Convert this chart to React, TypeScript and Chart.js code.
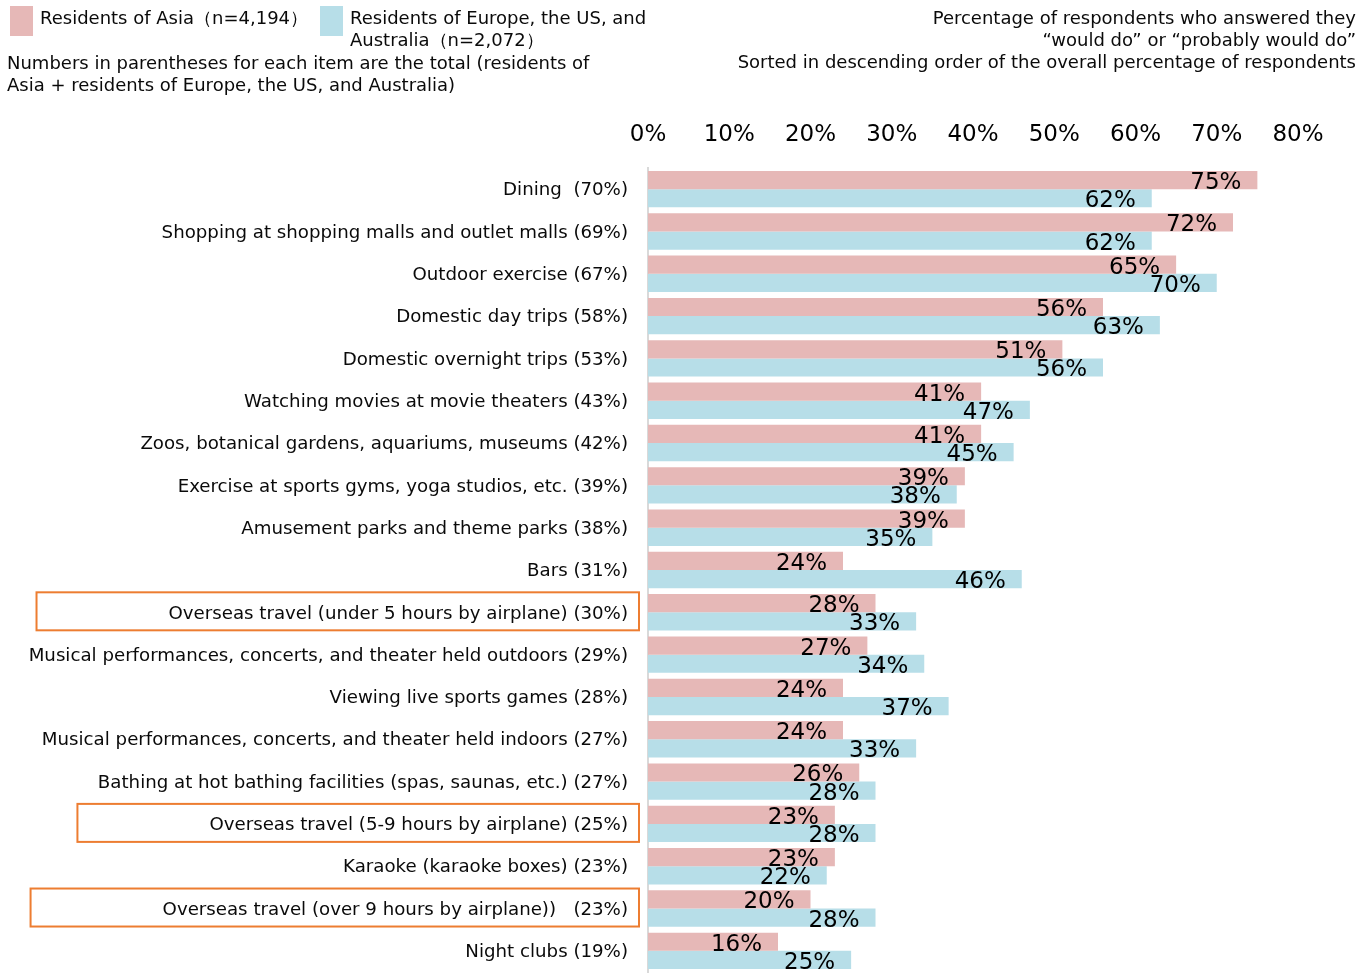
import React, { useEffect, useRef } from "react";
import { Chart, registerables } from "chart.js";

Chart.register(...registerables);

const categories: string[] = [
  "Dining  (70%)",
  "Shopping at shopping malls and outlet malls (69%)",
  "Outdoor exercise (67%)",
  "Domestic day trips (58%)",
  "Domestic overnight trips (53%)",
  "Watching movies at movie theaters (43%)",
  "Zoos, botanical gardens, aquariums, museums (42%)",
  "Exercise at sports gyms, yoga studios, etc. (39%)",
  "Amusement parks and theme parks (38%)",
  "Bars (31%)",
  "Overseas travel (under 5 hours by airplane) (30%)",
  "Musical performances, concerts, and theater held outdoors (29%)",
  "Viewing live sports games (28%)",
  "Musical performances, concerts, and theater held indoors (27%)",
  "Bathing at hot bathing facilities (spas, saunas, etc.) (27%)",
  "Overseas travel (5-9 hours by airplane) (25%)",
  "Karaoke (karaoke boxes) (23%)",
  "Overseas travel (over 9 hours by airplane))\u00a0\u00a0 (23%)",
  "Night clubs (19%)",
];

const asiaValues: number[] = [75, 72, 65, 56, 51, 41, 41, 39, 39, 24, 28, 27, 24, 24, 26, 23, 23, 20, 16];
const westValues: number[] = [62, 62, 70, 63, 56, 47, 45, 38, 35, 46, 33, 34, 37, 33, 28, 28, 22, 28, 25];

const highlighted: number[] = [10, 15, 17];

const asiaLabel = "Residents of Asia（n=4,194）";
const westLabelLines = ["Residents of Europe, the US, and", "Australia（n=2,072）"];
const noteLines = [
  "Numbers in parentheses for each item are the total (residents of",
  "Asia + residents of Europe, the US, and Australia)",
];
const rightLines = [
  "Percentage of respondents who answered they",
  "\u201cwould do\u201d or \u201cprobably would do\u201d",
  "Sorted in descending order of the overall percentage of respondents",
];

const PINK = "#E6B8B7";
const BLUE = "#B7DEE8";
const FONT = "'DejaVu Sans', Verdana, sans-serif";
const LABEL_SIZE = 18.2;

const valueLabelPlugin = {
  id: "valueLabels",
  afterDatasetsDraw(chart: any) {
    const ctx = chart.ctx;
    ctx.save();
    ctx.font = `23px ${FONT}`;
    ctx.fillStyle = "#000";
    ctx.textAlign = "right";
    ctx.textBaseline = "middle";
    chart.data.datasets.forEach((ds: any, i: number) => {
      const meta = chart.getDatasetMeta(i);
      meta.data.forEach((bar: any, j: number) => {
        ctx.fillText(`${ds.data[j]}%`, bar.x - 16, bar.y + 3);
      });
    });
    ctx.restore();
  },
};

const boxPlugin = {
  id: "highlightBoxes",
  afterDraw(chart: any) {
    const ctx = chart.ctx;
    const y = chart.scales.y;
    ctx.save();
    ctx.font = `${LABEL_SIZE}px ${FONT}`;
    ctx.strokeStyle = "#ED7D31";
    ctx.lineWidth = 2;
    highlighted.forEach((idx) => {
      const cy = y.getPixelForValue(idx);
      const w = ctx.measureText(categories[idx]).width;
      const right = chart.chartArea.left - 9;
      const left = chart.chartArea.left - 20 - w - 132;
      ctx.strokeRect(left, cy - 20, right - left, 38);
    });
    ctx.restore();
  },
};

export default function App() {
  const ref = useRef<HTMLCanvasElement>(null);

  useEffect(() => {
    if (!ref.current) return;
    Chart.defaults.font.family = FONT;
    const chart = new Chart(ref.current, {
      type: "bar",
      data: {
        labels: categories,
        datasets: [
          { label: asiaLabel, data: asiaValues, backgroundColor: PINK, borderWidth: 0 },
          { label: westLabelLines.join(" "), data: westValues, backgroundColor: BLUE, borderWidth: 0 },
        ],
      },
      options: {
        indexAxis: "y",
        responsive: false,
        animation: false,
        layout: { padding: { top: 108, right: 72, bottom: 1, left: 0 } },
        datasets: { bar: { categoryPercentage: 0.86, barPercentage: 1 } },
        plugins: { legend: { display: false }, tooltip: { enabled: false } },
        scales: {
          x: {
            position: "top",
            min: 0,
            max: 80,
            grid: { display: false, drawTicks: false },
            border: { display: false },
            ticks: {
              stepSize: 10,
              padding: 19,
              color: "#000",
              font: { size: 23, family: FONT },
              callback: (v: any) => `${v}%`,
            },
            afterFit: (s: any) => {
              s.height = 60;
            },
          },
          y: {
            grid: { display: false, drawTicks: false },
            border: { display: true, color: "#D9D9D9", width: 2 },
            ticks: {
              padding: 20,
              labelOffset: 1.5,
              color: "#0a0a0a",
              font: { size: LABEL_SIZE, family: FONT },
              autoSkip: false,
            },
            afterFit: (s: any) => {
              s.width = 648;
              s.paddingTop = 0;
              s.paddingBottom = 0;
            },
          },
        },
      },
      plugins: [valueLabelPlugin, boxPlugin],
    });
    return () => chart.destroy();
  }, []);

  const textStyle: React.CSSProperties = {
    position: "absolute",
    fontFamily: FONT,
    fontSize: 18,
    lineHeight: "22px",
    color: "#0a0a0a",
    whiteSpace: "nowrap",
  };

  return (
    <div style={{ position: "fixed", left: 0, top: 0, width: 1370, height: 973, background: "#fff", overflow: "hidden" }}>
      <canvas ref={ref} width={1370} height={973} style={{ position: "absolute", left: 0, top: 0 }} />
      <div style={{ position: "absolute", left: 10, top: 6, width: 23, height: 30, background: PINK }} />
      <div style={{ ...textStyle, left: 40, top: 7 }}>{asiaLabel}</div>
      <div style={{ position: "absolute", left: 320, top: 6, width: 23, height: 30, background: BLUE }} />
      <div style={{ ...textStyle, left: 350, top: 7 }}>
        {westLabelLines.map((l, i) => (
          <div key={i}>{l}</div>
        ))}
      </div>
      <div style={{ ...textStyle, left: 7, top: 52 }}>
        {noteLines.map((l, i) => (
          <div key={i}>{l}</div>
        ))}
      </div>
      <div style={{ ...textStyle, right: 14, top: 7, textAlign: "right" }}>
        {rightLines.map((l, i) => (
          <div key={i}>{l}</div>
        ))}
      </div>
    </div>
  );
}
